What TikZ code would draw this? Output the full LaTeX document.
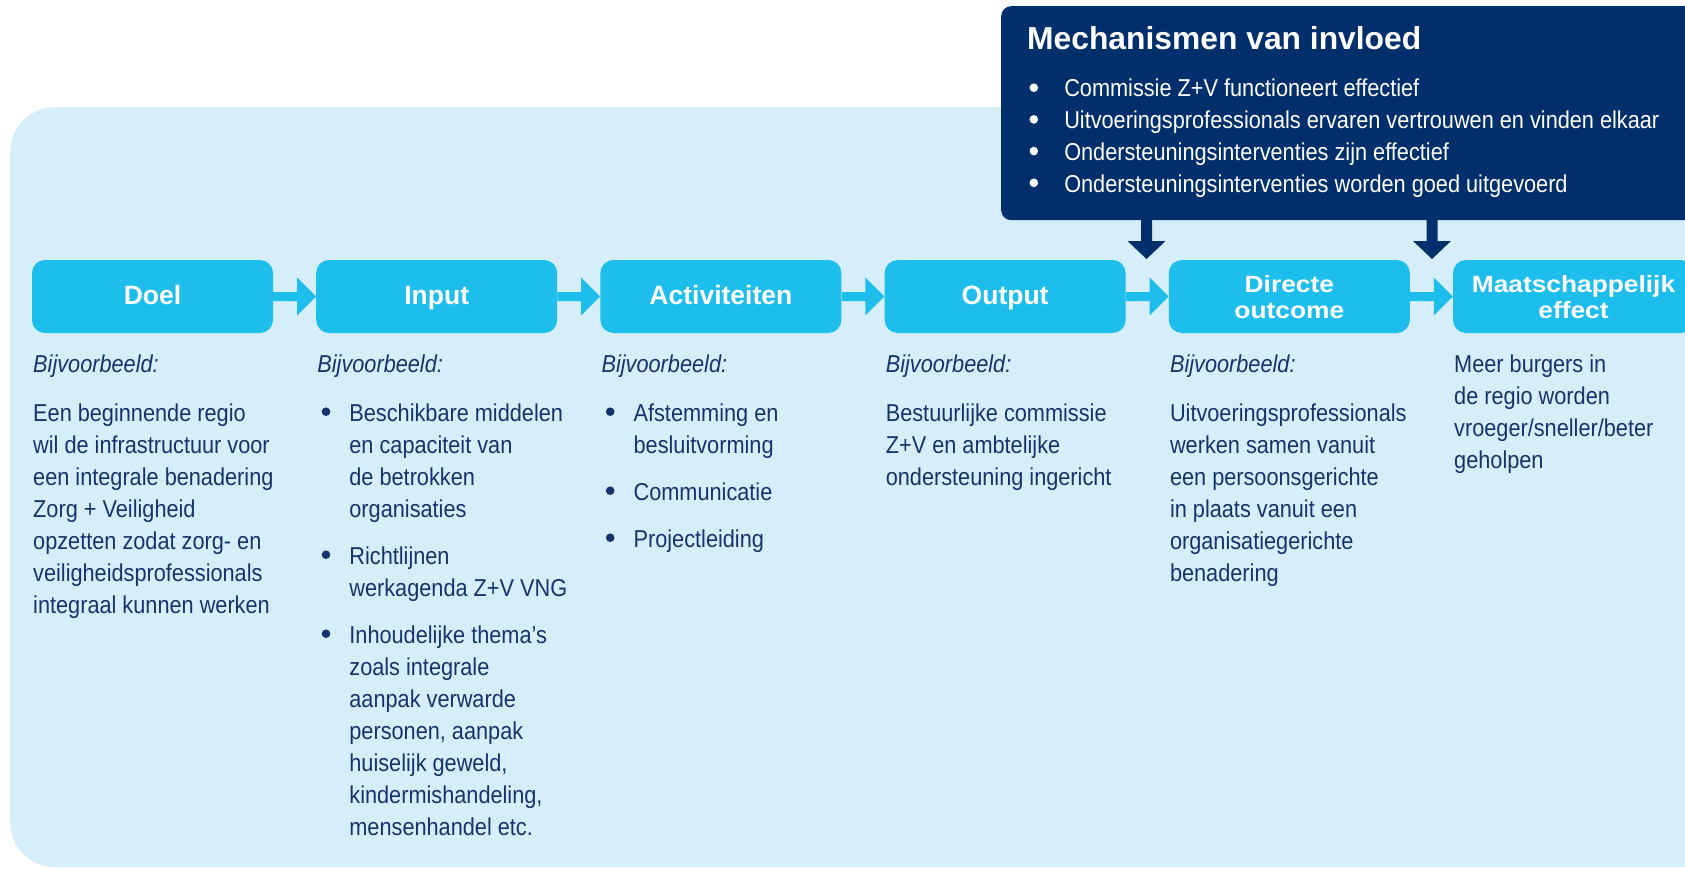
\documentclass[tikz,border=0pt]{standalone}
\usepackage{fontspec}
\setmainfont{Liberation Sans}[FakeStretch=0.89]
\newfontfamily\headfont{Liberation Sans}
\newfontfamily\widefont{Liberation Sans}[FakeStretch=1.12]
\usetikzlibrary{calc}
\definecolor{bgc}{RGB}{214,238,250}
\definecolor{cyanc}{RGB}{29,190,236}
\definecolor{navyc}{RGB}{0,47,107}
\definecolor{textc}{RGB}{22,52,108}
\newcommand\dotmark{\tikz[baseline=0pt,x=1pt,y=1pt]\fill (0,9.3) circle[radius=4.3];}
\newcommand\bul[1][28pt]{\noindent\llap{\makebox[#1][l]{\hspace{0.3pt}\dotmark}}}
\newcommand\flowarrow[2]{%
  \fill[cyanc] ($(#1.east)+(0,-4.5)$) -- ($(#2.west)+(-19,-4.5)$) -- ($(#2.west)+(-19,-19)$) -- (#2.west)
     -- ($(#2.west)+(-19,19)$) -- ($(#2.west)+(-19,4.5)$) -- ($(#1.east)+(0,4.5)$) -- cycle;}
\newcommand\mecharrow[2]{%
  \fill[navyc] ($(#1)+(-5.5,-4)$) -- ($(#2)+(-5.5,-18)$) -- ($(#2)+(-19,-18)$) -- (#2)
     -- ($(#2)+(19,-18)$) -- ($(#2)+(5.5,-18)$) -- ($(#1)+(5.5,-4)$) -- cycle;}
\begin{document}
\begin{tikzpicture}[x=1pt, y=-1pt,
  stagebox/.style={fill=cyanc, rounded corners=13pt, minimum width=241pt, minimum height=73pt, inner sep=0pt},
  stagelbl/.style={anchor=base, inner sep=0pt, text=white, font=\headfont\bfseries\fontsize{26.5}{30}\selectfont},
  widelbl/.style={anchor=base, inner sep=0pt, text=white, font=\widefont\bfseries\fontsize{23.5}{26}\selectfont},
  body/.style={anchor=base west, inner sep=0pt, text=textc, font=\fontsize{24.4}{32}\selectfont},
  example/.style={body, font=\fontsize{24.4}{32}\selectfont\itshape}]
\useasboundingbox (0,0) rectangle (1685,869);
\fill[white] (0,0) rectangle (1685,869);
\clip (0,0) rectangle (1685,869);
% backgrounds
\node[fill=bgc, rounded corners=45pt, minimum width=1760pt, minimum height=760pt, anchor=north west, inner sep=0pt] (bg) at (10,107) {};
\node[fill=navyc, rounded corners=10pt, minimum width=760pt, minimum height=214pt, anchor=north west, inner sep=0pt] (mech) at (1001,6) {};
% mechanisms text
\node[anchor=base west, inner sep=0pt, text=white, font=\headfont\bfseries\fontsize{31.8}{36}\selectfont] (mtitle) at (1027,50) {Mechanismen van invloed};
\node[anchor=base west, inner sep=0pt, text=white, font=\fontsize{24.4}{31.7}\selectfont] (mlist) at (1029,97) {%
\begin{minipage}[t]{640pt}\raggedright\leftskip=29pt
\bul[29pt] Commissie Z+V functioneert effectief\par
\bul[29pt] Uitvoeringsprofessionals ervaren vertrouwen en vinden elkaar\par
\bul[29pt] Ondersteuningsinterventies zijn effectief\par
\bul[29pt] Ondersteuningsinterventies worden goed uitgevoerd
\end{minipage}};
% stage boxes
\node[stagebox] (b1) at (152.5,296.5) {};
\node[stagebox] (b2) at (436.7,296.5) {};
\node[stagebox] (b3) at (720.9,296.5) {};
\node[stagebox] (b4) at (1005.1,296.5) {};
\node[stagebox] (b5) at (1289.3,296.5) {};
\node[stagebox] (b6) at (1573.5,296.5) {};
\node[stagelbl] (l1) at (152.5,304) {Doel};
\node[stagelbl] (l2) at (436.7,304) {Input};
\node[stagelbl] (l3) at (720.9,304) {Activiteiten};
\node[stagelbl] (l4) at (1005.1,304) {Output};
\node[widelbl] (l5) at (1289.3,292) {\begin{tabular}[t]{@{}c@{}}Directe\\outcome\end{tabular}};
\node[widelbl] (l6) at (1573.5,292) {\begin{tabular}[t]{@{}c@{}}Maatschappelijk\\effect\end{tabular}};
% flow arrows
\flowarrow{b1}{b2}
\flowarrow{b2}{b3}
\flowarrow{b3}{b4}
\flowarrow{b4}{b5}
\flowarrow{b5}{b6}
% mechanism arrows
\coordinate (m1) at (1146.5,220);
\coordinate (g1) at (1146.5,259);
\coordinate (m2) at (1432,220);
\coordinate (g2) at (1432,259);
\mecharrow{m1}{g1}
\mecharrow{m2}{g2}
% example labels
\node[example] (e1) at (33,372) {Bijvoorbeeld:};
\node[example] (e2) at (317.2,372) {Bijvoorbeeld:};
\node[example] (e3) at (601.4,372) {Bijvoorbeeld:};
\node[example] (e4) at (885.6,372) {Bijvoorbeeld:};
\node[example] (e5) at (1169.8,372) {Bijvoorbeeld:};
% column texts
\node[body] (t1) at (33,421) {\begin{minipage}[t]{270pt}\raggedright
Een beginnende regio\\wil de infrastructuur voor\\een integrale benadering\\Zorg + Veiligheid\\opzetten zodat zorg- en\\veiligheidsprofessionals\\integraal kunnen werken
\end{minipage}};
\node[body] (t2) at (317.2,421) {\begin{minipage}[t]{270pt}\raggedright\leftskip=32pt
\bul Beschikbare middelen\\en capaciteit van\\de betrokken\\organisaties\par\vspace{15pt}
\bul Richtlijnen\\werkagenda Z+V VNG\par\vspace{15pt}
\bul Inhoudelijke thema’s\\zoals integrale\\aanpak verwarde\\personen, aanpak\\huiselijk geweld,\\kindermishandeling,\\mensenhandel etc.
\end{minipage}};
\node[body] (t3) at (601.4,421) {\begin{minipage}[t]{270pt}\raggedright\leftskip=32pt
\bul Afstemming en\\besluitvorming\par\vspace{15pt}
\bul Communicatie\par\vspace{15pt}
\bul Projectleiding
\end{minipage}};
\node[body] (t4) at (885.6,421) {\begin{minipage}[t]{270pt}\raggedright
Bestuurlijke commissie\\Z+V en ambtelijke\\ondersteuning ingericht
\end{minipage}};
\node[body] (t5) at (1169.8,421) {\begin{minipage}[t]{270pt}\raggedright
Uitvoeringsprofessionals\\werken samen vanuit\\een persoonsgerichte\\in plaats vanuit een\\organisatiegerichte\\benadering
\end{minipage}};
\node[body] (t6) at (1454,372) {\begin{minipage}[t]{270pt}\raggedright
Meer burgers in\\de regio worden\\vroeger/sneller/beter\\geholpen
\end{minipage}};
\end{tikzpicture}
\end{document}
